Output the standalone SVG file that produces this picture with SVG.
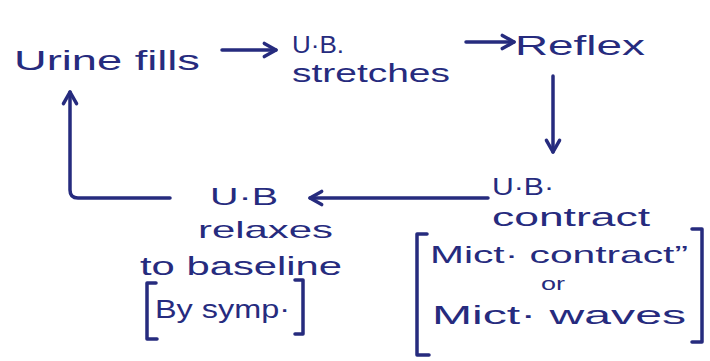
<svg xmlns="http://www.w3.org/2000/svg" width="710" height="361" viewBox="0 0 710 361">
  <defs>
    <style>
      .lbl { font-family: "Liberation Sans", "DejaVu Sans", sans-serif; fill: #262b7e; lengthAdjust: spacingAndGlyphs; }
      .edge { fill: none; stroke: #262b7e; stroke-width: 3.5; stroke-linecap: round; stroke-linejoin: round; }
      .brk { fill: none; stroke: #262b7e; stroke-width: 3.5; stroke-linecap: round; stroke-linejoin: round; }
    </style>
    <marker id="head" viewBox="0 0 12 12" refX="10" refY="6" markerWidth="5" markerHeight="5" orient="auto" markerUnits="strokeWidth">
      <path d="M2,1.5 L10,6 L2,10.5" fill="none" stroke="#262b7e" stroke-width="2.4" stroke-linecap="round" stroke-linejoin="round"/>
    </marker>
  </defs>
  <rect width="710" height="361" fill="#ffffff"/>

  <!-- connectors of the micturition cycle -->
  <g id="connectors">
    <path class="edge" d="M222,50 L276,50" marker-end="url(#head)"/>
    <path class="edge" d="M466,42 L514,42" marker-end="url(#head)"/>
    <path class="edge" d="M553,76 L553,152" marker-end="url(#head)"/>
    <path class="edge" d="M488,198 L310,198" marker-end="url(#head)"/>
    <path class="edge" d="M170,198 L78,198 Q70,198 70,190 L70,92" marker-end="url(#head)"/>
  </g>

  <g id="urine-fills">
    <text class="lbl" x="14" y="70" font-size="28" textLength="186" lengthAdjust="spacingAndGlyphs">Urine fills</text>
  </g>

  <g id="ub-stretches">
    <text class="lbl" x="292" y="53" font-size="24" textLength="52" lengthAdjust="spacingAndGlyphs">U·B.</text>
    <text class="lbl" x="292" y="82" font-size="26" textLength="158" lengthAdjust="spacingAndGlyphs">stretches</text>
  </g>

  <g id="reflex">
    <text class="lbl" x="515" y="55" font-size="28" textLength="130" lengthAdjust="spacingAndGlyphs">Reflex</text>
  </g>

  <g id="ub-contract">
    <text class="lbl" x="492" y="195" font-size="24" textLength="62" lengthAdjust="spacingAndGlyphs">U·B·</text>
    <text class="lbl" x="492" y="226" font-size="26" textLength="158" lengthAdjust="spacingAndGlyphs">contract</text>
    <path class="brk" d="M427,234 L417,234 L417,355 L429,355"/>
    <path class="brk" d="M692,229 L702,229 L702,342 L692,342"/>
    <text class="lbl" x="430" y="263" font-size="24" textLength="258" lengthAdjust="spacingAndGlyphs">Mict· contract”</text>
    <text class="lbl" x="541" y="290" font-size="18" textLength="24" lengthAdjust="spacingAndGlyphs">or</text>
    <text class="lbl" x="432" y="324" font-size="26" textLength="254" lengthAdjust="spacingAndGlyphs">Mict· waves</text>
  </g>

  <g id="ub-relaxes">
    <text class="lbl" x="210" y="205" font-size="24" textLength="68" lengthAdjust="spacingAndGlyphs">U·B</text>
    <text class="lbl" x="198" y="238" font-size="24" textLength="135" lengthAdjust="spacingAndGlyphs">relaxes</text>
    <text class="lbl" x="140" y="275" font-size="26" textLength="202" lengthAdjust="spacingAndGlyphs">to baseline</text>
    <path class="brk" d="M156,283 L147,283 L147,339 L157,339"/>
    <path class="brk" d="M295,280 L303,280 L303,334 L295,334"/>
    <text class="lbl" x="155" y="318" font-size="26" textLength="135" lengthAdjust="spacingAndGlyphs">By symp·</text>
  </g>
</svg>
